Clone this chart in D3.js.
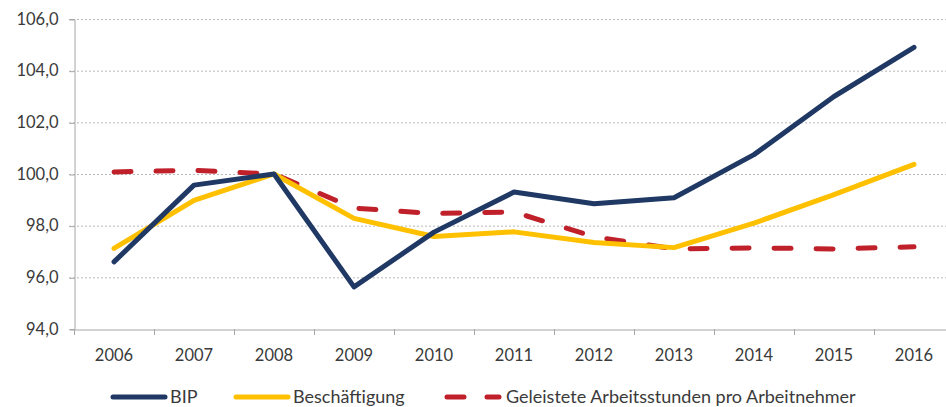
<!DOCTYPE html>
<html>
<head>
<meta charset="utf-8">
<script src="https://cdn.jsdelivr.net/npm/d3@7"></script>
<style>
  body { margin: 0; background: #fff; }
  svg { display: block; font-family: Lato, "Open Sans", sans-serif; }
</style>
</head>
<body>
<svg id="chart" width="946" height="407"></svg>
<script>
// values
const years = ["2006", "2007", "2008", "2009", "2010", "2011", "2012", "2013", "2014", "2015", "2016"];
const bip = [96.6, 99.57, 100.0, 95.63, 97.75, 99.3, 98.85, 99.08, 100.75, 103.0, 104.9];
const beschaeftigung = [97.12, 98.98, 100.0, 98.28, 97.58, 97.76, 97.35, 97.15, 98.1, 99.2, 100.37];
const arbeitsstunden = [100.08, 100.14, 100.0, 98.68, 98.47, 98.53, 97.57, 97.1, 97.14, 97.1, 97.18];
const yTicks = [94, 96, 98, 100, 102, 104, 106];

const series = [
  { name: "BIP", values: bip, color: "#1f3864", dash: null },
  { name: "Beschäftigung", values: beschaeftigung, color: "#ffc000", dash: null },
  { name: "Geleistete Arbeitsstunden pro Arbeitnehmer", values: arbeitsstunden, color: "#c0202a", dash: "17,25" }
];

const svg = d3.select("#chart");
const plotLeft = 74, plotRight = 954, plotTop = 19, plotBottom = 329;

const x = d3.scaleBand().domain(years).range([plotLeft, plotRight]);
const y = d3.scaleLinear().domain([94, 106]).range([plotBottom, plotTop]);

// gridlines
svg.append("g")
  .selectAll("line")
  .data(yTicks.slice(1))
  .enter()
  .append("line")
    .attr("x1", plotLeft - 5)
    .attr("x2", plotRight)
    .attr("y1", d => y(d) + 0.5)
    .attr("y2", d => y(d) + 0.5)
    .style("stroke", "#b8b8b8")
    .style("stroke-dasharray", "2,2")

// y axis
const yAxis = svg.append("g")
  .attr("transform", `translate(${plotLeft + 0.5},0)`)
  .call(d3.axisLeft(y).tickValues(yTicks).tickSize(5).tickFormat(d => d3.format(".1f")(d).replace(".", ",")))
yAxis.select(".domain").style("stroke", "#a6a6a6")
yAxis.selectAll(".tick line").style("stroke", "#a6a6a6").attr("transform", "translate(0,0.5)")
yAxis.selectAll(".tick text")
  .attr("x", -16)
  .style("font-size", "16.5px")
  .style("fill", "#3a3a3a")
  .style("font-family", "Lato, sans-serif")

// x axis
const xAxis = svg.append("g")
  .attr("transform", `translate(0,${plotBottom + 0.5})`)
  .call(d3.axisBottom(x).tickSize(0).tickSizeOuter(0))
xAxis.select(".domain").style("stroke", "#a6a6a6")
xAxis.selectAll(".tick text")
  .attr("y", 20)
  .style("font-size", "16.5px")
  .style("fill", "#3a3a3a")
  .style("font-family", "Lato, sans-serif")

// tick marks between the categories
svg.append("g")
  .selectAll("line")
  .data(years)
  .enter()
  .append("line")
    .attr("x1", d => x(d) + 0.5)
    .attr("x2", d => x(d) + 0.5)
    .attr("y1", plotBottom)
    .attr("y2", plotBottom + 6)
    .style("stroke", "#a6a6a6")

// lines
const line = d3.line()
  .x((d, i) => x(years[i]) + x.bandwidth() / 2)
  .y(d => y(d))

svg.append("g")
  .selectAll("path")
  .data(series.slice().reverse())
  .enter()
  .append("path")
    .attr("d", d => line(d.values))
    .style("fill", "none")
    .style("stroke", d => d.color)
    .style("stroke-width", 5)
    .style("stroke-linecap", "round")
    .style("stroke-linejoin", "round")
    .style("stroke-dasharray", d => d.dash)

// legend
const legendX = [113, 236, 447];
const legend = svg.append("g")
  .selectAll("g")
  .data(series)
  .enter()
  .append("g")
    .attr("transform", (d, i) => `translate(${legendX[i]},397)`)

legend.append("line")
  .attr("x1", 0)
  .attr("x2", 52)
  .style("stroke", d => d.color)
  .style("stroke-width", 5)
  .style("stroke-linecap", "round")
  .style("stroke-dasharray", d => d.dash ? "17,23" : null)

legend.append("text")
  .attr("x", (d, i) => i == 2 ? 59 : 57)
  .attr("y", 6)
  .text(d => d.name)
  .style("font-size", "18px")
  .style("fill", "#3a3a3a")
</script>
</body>
</html>
